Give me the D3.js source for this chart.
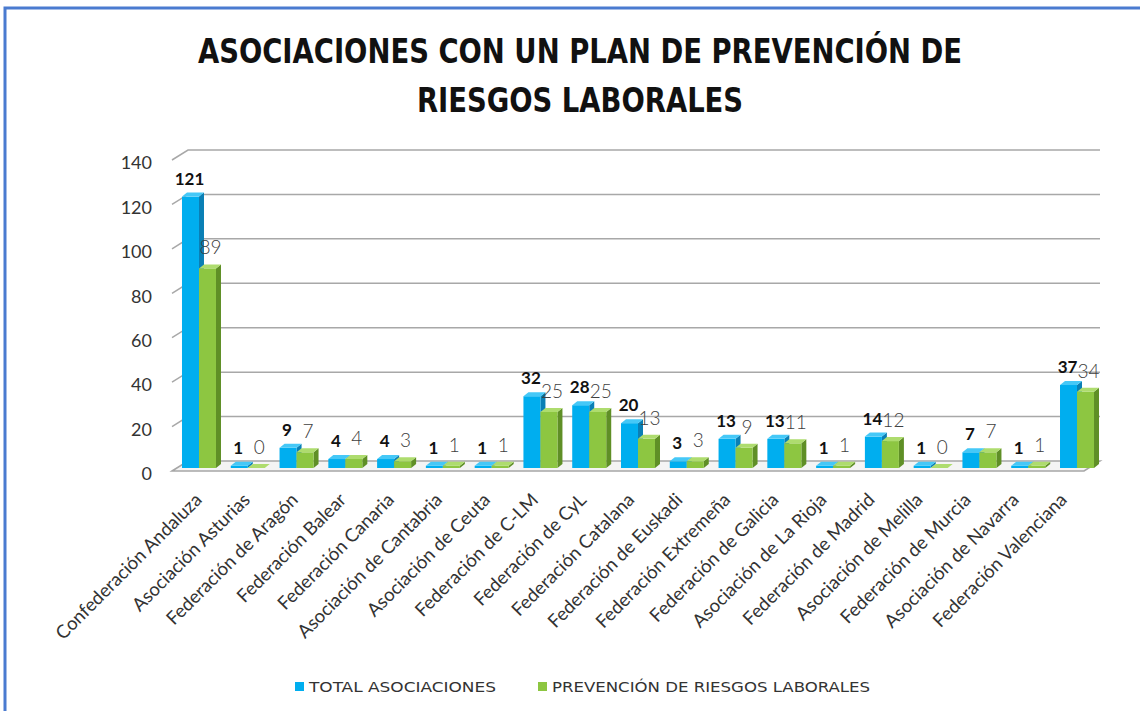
<!DOCTYPE html>
<html>
<head>
<meta charset="utf-8">
<script src="https://cdn.jsdelivr.net/npm/d3@7"></script>
<style>
  body { margin: 0; background: #fff; }
  svg { display: block; }
</style>
</head>
<body>
<svg id="chart" width="1140" height="711"></svg>
<script>
// Data
const categories = [
  "Confederación Andaluza", "Asociación Asturias", "Federación de Aragón",
  "Federación Balear", "Federación Canaria", "Asociación de Cantabria",
  "Asociación de Ceuta", "Federación de C-LM", "Federación de CyL",
  "Federación Catalana", "Federación de Euskadi", "Federación Extremeña",
  "Federación de Galicia", "Asociación de La Rioja", "Federación de Madrid",
  "Asociación de Melilla", "Federación de Murcia", "Asociación de Navarra",
  "Federación Valenciana"
];
const totalAsociaciones = [121, 1, 9, 4, 4, 1, 1, 32, 28, 20, 3, 13, 13, 1, 14, 1, 7, 1, 37];
const prevencionRiesgos = [89, 0, 7, 4, 3, 1, 1, 25, 25, 13, 3, 9, 11, 1, 12, 0, 7, 1, 34];
const yTicks = [0, 20, 40, 60, 80, 100, 120, 140];
const seriesNames = ["TOTAL ASOCIACIONES", "PREVENCIÓN DE RIESGOS LABORALES"];

const svg = d3.select("#chart");
const labelFont = "Lato, 'Open Sans', sans-serif";
const condFont = "'DejaVu Sans Condensed', 'DejaVu Sans', sans-serif";

// 3D-ish geometry
const wallDx = 16, wallDy = 10;     // front -> back offset of the walls
const barDx = 5, barDy = 4;         // depth of each bar
const barW = 17;

const x = d3.scaleBand()
  .domain(d3.range(categories.length))
  .range([174.6, 1101.4]);
// category labels sit on the front edge, slightly tighter than the bars
const xLabel = d3.scalePoint()
  .domain(d3.range(categories.length))
  .range([201, 1066]);
const yBack = d3.scaleLinear().domain([0, 140]).range([461, 150]);
const yBar = d3.scaleLinear().domain([0, 140]).range([468, 154]);

const backX0 = 188, backX1 = 1100;

// Frame border
svg.append("path")
  .attr("d", "M5,711 L5,8 L1140,8")
  .attr("fill", "none")
  .attr("stroke", "#4a7bd0")
  .attr("stroke-width", 3);

// Title (condensed bold, stretched a bit vertically like the original)
const titleLines = ["ASOCIACIONES CON UN PLAN DE PREVENCIÓN DE", "RIESGOS LABORALES"];
const titleBase = [63, 112];
titleLines.forEach((t, i) => {
  svg.append("text")
    .attr("transform", `translate(580,${titleBase[i]}) scale(1,1.13)`)
    .attr("text-anchor", "middle")
    .attr("font-family", condFont)
    .attr("font-weight", "bold")
    .attr("font-size", 30.5)
    .attr("fill", "#111")
    .text(t);
});

// Floor
svg.append("path")
  .attr("d", `M${backX0 - wallDx},${yBack(0) + wallDy} L${backX0},${yBack(0)} L${backX1},${yBack(0)} L${backX1 - wallDx},${yBack(0) + wallDy} Z`)
  .attr("fill", "#f4f4f4")
  .attr("stroke", "#a6a6a6")
  .attr("stroke-width", 1.5);

// Gridlines: back wall + side wall diagonal
const grid = svg.append("g")
  .attr("fill", "none")
  .attr("stroke", "#a8a8a8")
  .attr("stroke-width", 1.5);
grid.selectAll("path")
  .data(yTicks.filter(d => d > 0))
  .join("path")
    .attr("d", d => `M${backX0 - wallDx},${yBack(d) + wallDy} L${backX0},${yBack(d)} L${backX1},${yBack(d)}`);

// Y tick labels
svg.append("g")
  .selectAll("text")
  .data(yTicks)
  .join("text")
    .attr("x", 152)
    .attr("y", d => yBack(d) + wallDy + 3)
    .attr("dy", "0.35em")
    .attr("text-anchor", "end")
    .attr("font-family", labelFont)
    .attr("font-size", 18)
    .attr("fill", "#333")
    .text(d => d);

// Bars
function bar3d(g, x0, value, front, top, side) {
  const x1 = x0 + barW;
  const yt = yBar(value), yb = yBar(0);
  g.append("path")
    .attr("d", `M${x1},${yt} L${x1 + barDx},${yt - barDy} L${x1 + barDx},${yb - barDy} L${x1},${yb} Z`)
    .attr("fill", side);
  if (value > 0) {
    g.append("rect")
      .attr("x", x0).attr("y", yt)
      .attr("width", barW).attr("height", yb - yt)
      .attr("fill", front);
  }
  g.append("path")
    .attr("d", `M${x0},${yt} L${x0 + barDx},${yt - barDy} L${x1 + barDx},${yt - barDy} L${x1},${yt} Z`)
    .attr("fill", top);
}

const cx = i => x(i) + x.bandwidth() / 2;
const bars = svg.append("g");
categories.forEach((c, i) => {
  const g = bars.append("g");
  bar3d(g, cx(i) - barW, totalAsociaciones[i], "#00aeef", "#45c8f7", "#0a7fb5");
  bar3d(g, cx(i), prevencionRiesgos[i], "#8dc641", "#aedc6e", "#5f8f26");
});

// Data labels
svg.append("g")
  .selectAll("text")
  .data(totalAsociaciones)
  .join("text")
    .attr("x", (d, i) => cx(i) - barW / 2 - 1)
    .attr("y", d => yBar(d) - 12)
    .attr("text-anchor", "middle")
    .attr("font-family", labelFont)
    .attr("font-weight", "bold")
    .attr("font-size", 17)
    .attr("fill", "#111")
    .text(d => d);

svg.append("g")
  .selectAll("text")
  .data(prevencionRiesgos)
  .join("text")
    .attr("x", (d, i) => cx(i) + barW / 2 + 3)
    .attr("y", d => yBar(d) - 14)
    .attr("text-anchor", "middle")
    .attr("font-family", labelFont)
    .attr("font-weight", 300)
    .attr("font-size", 19)
    .attr("fill", "#404040")
    .text(d => d);

// Category labels
svg.append("g")
  .selectAll("text")
  .data(categories)
  .join("text")
    .attr("transform", (d, i) => `translate(${xLabel(i) + 2},${501}) rotate(-45)`)
    .attr("text-anchor", "end")
    .attr("font-family", labelFont)
    .attr("font-size", 18.5)
    .attr("fill", "#333")
    .text(d => d);

// Legend
const legend = svg.append("g");
const legendItems = [
  { name: seriesNames[0], color: "#00aeef", x: 295, len: 187 },
  { name: seriesNames[1], color: "#8dc641", x: 538, len: 318 }
];
legendItems.forEach(it => {
  legend.append("rect")
    .attr("x", it.x).attr("y", 682)
    .attr("width", 9).attr("height", 9)
    .attr("fill", it.color);
  legend.append("text")
    .attr("x", it.x + 14).attr("y", 692)
    .attr("font-family", condFont)
    .attr("font-size", 14)
    .attr("fill", "#333")
    .attr("textLength", it.len)
    .attr("lengthAdjust", "spacingAndGlyphs")
    .text(it.name);
});
</script>
</body>
</html>
